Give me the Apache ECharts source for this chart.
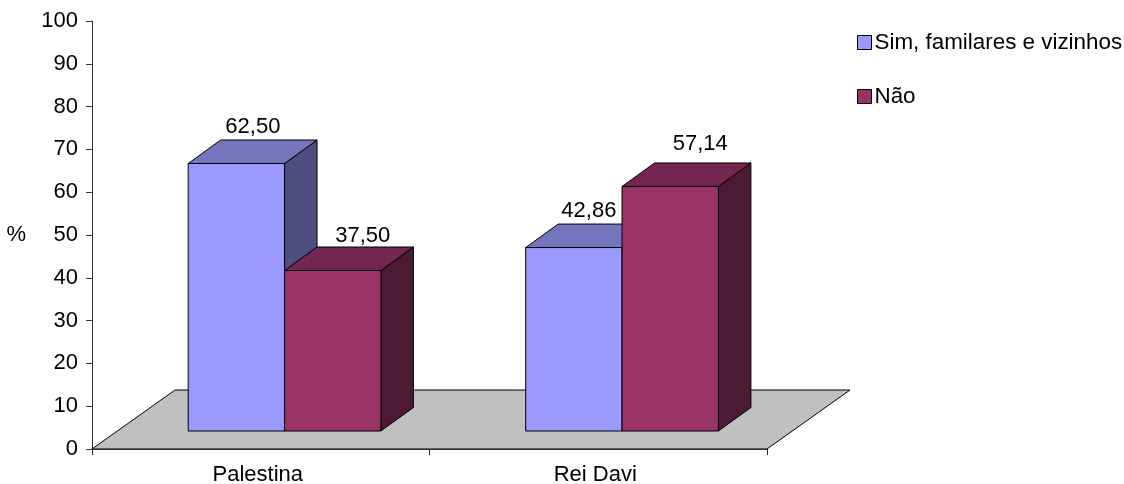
<!DOCTYPE html>
<html>
<head>
<meta charset="utf-8">
<style>html,body{margin:0;padding:0;background:#fff}#chart{width:1124px;height:484px}</style>
<script src="https://cdn.jsdelivr.net/npm/echarts@6/dist/echarts.min.js"></script>
</head>
<body>
<div id="chart"></div>
<script>
// Categories, series names and values
const categories = ['Palestina', 'Rei Davi'];
const seriesNames = ['Sim, familares e vizinhos', 'Não'];
const simValues = [62.50, 42.86];
const naoValues = [37.50, 57.14];
const yTicks = { min: 0, max: 100, interval: 10 };

// Prism shading per series
const shades = [
  { front: '#9999FF', top: '#7575BD', side: '#4D4D80' },
  { front: '#993366', top: '#732650', side: '#4D1A33' }
];
const FONT = '"Liberation Sans", Arial, sans-serif';
const FONT_SIZE = 22;
const DEPTH = [32.5, -23.5];        // receding edge of each bar
const FLOOR_DEPTH = [83, -59];      // receding edge of the floor
const BASE_LIFT = 18;               // bars stand this far above the axis line
const BAR_RATIO = 0.2855;           // bar width as a share of the category band
const START_RATIO = 0.2150;         // first bar's left edge, left of the band centre
// Label nudge from the bar centre and back edge: [series][category] = [dx, dy]
const labelNudge = [
  [[16.5, -13.5], [15, -13]],
  [[30, -11], [30, -19]]
];

const poly = (points, fill) => ({
  type: 'polygon',
  shape: { points },
  style: { fill, stroke: '#000', lineWidth: 1 }
});

function floorRenderer(params) {
  const r = params.coordSys;
  const x0 = r.x, x1 = r.x + r.width, y = r.y + r.height;
  return poly([
    [x0, y], [x1, y],
    [x1 + FLOOR_DEPTH[0], y + FLOOR_DEPTH[1]],
    [x0 + FLOOR_DEPTH[0], y + FLOOR_DEPTH[1]]
  ], '#C0C0C0');
}

function barRenderer(seriesIndex) {
  return function (params, api) {
    const cat = api.value(0);
    const value = api.value(1);
    const centre = api.coord([cat, 0])[0];
    const band = api.size([1, 0])[0];
    const w = band * BAR_RATIO;
    const left = centre - band * START_RATIO + seriesIndex * w;
    const right = left + w;
    const bottom = api.coord([cat, 0])[1] - BASE_LIFT;
    const top = api.coord([cat, value])[1] - BASE_LIFT;
    const [dx, dy] = DEPTH;
    const s = shades[seriesIndex];
    const nudge = labelNudge[seriesIndex][cat];
    return {
      type: 'group',
      children: [
        poly([[right, bottom], [right + dx, bottom + dy], [right + dx, top + dy], [right, top]], s.side),
        poly([[left, top], [right, top], [right + dx, top + dy], [left + dx, top + dy]], s.top),
        poly([[left, bottom], [right, bottom], [right, top], [left, top]], s.front),
        {
          type: 'text',
          style: {
            text: value.toFixed(2).replace('.', ','),
            x: left + w / 2 + nudge[0],
            y: top + dy + nudge[1],
            align: 'center',
            verticalAlign: 'middle',
            font: FONT_SIZE + 'px ' + FONT,
            fill: '#000'
          }
        }
      ]
    };
  };
}

const barSeries = (i, values) => ({
  type: 'custom',
  name: seriesNames[i],
  renderItem: barRenderer(i),
  encode: { x: 0, y: 1 },
  clip: false,
  z: 3,
  itemStyle: { color: shades[i].front },
  data: values.map((v, c) => [c, v])
});

const chart = echarts.init(document.getElementById('chart'), null, { renderer: 'canvas' });
chart.setOption({
  animation: false,
  backgroundColor: '#fff',
  textStyle: { fontFamily: FONT },
  grid: { left: 92, right: 357, top: 21, bottom: 35, containLabel: false, outerBoundsMode: 'none' },
  legend: {
    orient: 'vertical',
    left: 852,
    top: 23,
    itemWidth: 14,
    itemHeight: 14,
    itemGap: 25,
    icon: 'rect',
    selectedMode: false,
    textStyle: { fontSize: 22.4, fontFamily: FONT, color: '#000', lineHeight: 29, padding: [0, 0, 0, -2] },
    data: seriesNames.map((name, i) => ({
      name,
      itemStyle: { color: shades[i].front, borderColor: '#000', borderWidth: 1 }
    }))
  },
  xAxis: {
    type: 'category',
    data: categories,
    axisLine: { show: true, lineStyle: { color: '#222', width: 1.5 } },
    axisTick: { show: true, length: 6, alignWithLabel: false, lineStyle: { color: '#222' } },
    axisLabel: { fontSize: FONT_SIZE, color: '#000', margin: 15, padding: [0, 6, 0, 0], fontFamily: FONT },
    splitLine: { show: false }
  },
  yAxis: {
    type: 'value',
    min: yTicks.min,
    max: yTicks.max,
    interval: yTicks.interval,
    name: '%',
    nameLocation: 'middle',
    nameRotate: 0,
    nameGap: 66,
    nameTextStyle: { fontSize: FONT_SIZE, color: '#000', fontFamily: FONT },
    axisLine: { show: true, lineStyle: { color: '#333' } },
    axisTick: { show: true, length: 6, lineStyle: { color: '#333' } },
    axisLabel: { fontSize: FONT_SIZE, color: '#000', margin: 14, padding: [6, 0, 0, 0], fontFamily: FONT },
    splitLine: { show: false }
  },
  series: [
    {
      type: 'custom',
      name: 'floor',
      renderItem: floorRenderer,
      encode: { x: 0, y: 1 },
      clip: false,
      silent: true,
      z: 1,
      data: [[0, 0]]
    },
    barSeries(0, simValues),
    barSeries(1, naoValues)
  ]
});
</script>
</body>
</html>
